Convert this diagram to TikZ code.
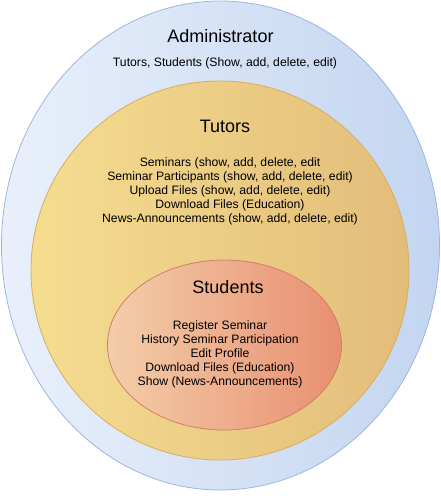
\documentclass[tikz,border=0pt]{standalone}
\usepackage{fontspec}
\setmainfont{Liberation Sans}
\usetikzlibrary{shapes.geometric}
\definecolor{outL}{HTML}{E9F0FB}
\definecolor{outR}{HTML}{C3D5F0}
\definecolor{outB}{HTML}{9DB6DF}
\definecolor{midL}{HTML}{F5DD90}
\definecolor{midR}{HTML}{E2BD7A}
\definecolor{midB}{HTML}{D6AE5C}
\definecolor{inL}{HTML}{F4CDA9}
\definecolor{inR}{HTML}{E88F70}
\definecolor{inB}{HTML}{D27E68}
\tikzset{
  ring/.style={ellipse, inner sep=0pt, line width=0.8pt},
  title/.style={font=\fontsize{18}{20}\selectfont, text=black, inner sep=0pt},
  body/.style={font=\fontsize{12.2}{14}\selectfont, text=black, align=center, inner sep=0pt}
}
\begin{document}
\begin{tikzpicture}[x=1pt,y=-1pt]
\useasboundingbox (0,0) rectangle (441,499);
\node[ring, draw=outB, left color=outL, right color=outR, minimum width=438pt, minimum height=489pt] (outer) at (220.5,245.5) {};
\node[ring, draw=midB, left color=midL, right color=midR, minimum width=378pt, minimum height=379pt] (middle) at (220,270.5) {};
\node[ring, draw=inB, left color=inL, right color=inR, minimum width=234pt, minimum height=170pt] (inner) at (224.5,345) {};
\node[title] (admin) at (220.5,36) {Administrator};
\node[body] (admintext) at (225,63) {Tutors, Students (Show, add, delete, edit)};
\node[title] (tutors) at (225,126) {Tutors};
\node[body] (tutorstext) at (230,191.5) {Seminars (show, add, delete, edit\\Seminar Participants (show, add, delete, edit)\\Upload Files (show, add, delete, edit)\\Download Files (Education)\\News-Announcements (show, add, delete, edit)};
\node[title] (students) at (228,287) {Students};
\node[body] (studentstext) at (220,354) {Register Seminar\\History Seminar Participation\\Edit Profile\\Download Files (Education)\\Show (News-Announcements)};
\end{tikzpicture}
\end{document}
